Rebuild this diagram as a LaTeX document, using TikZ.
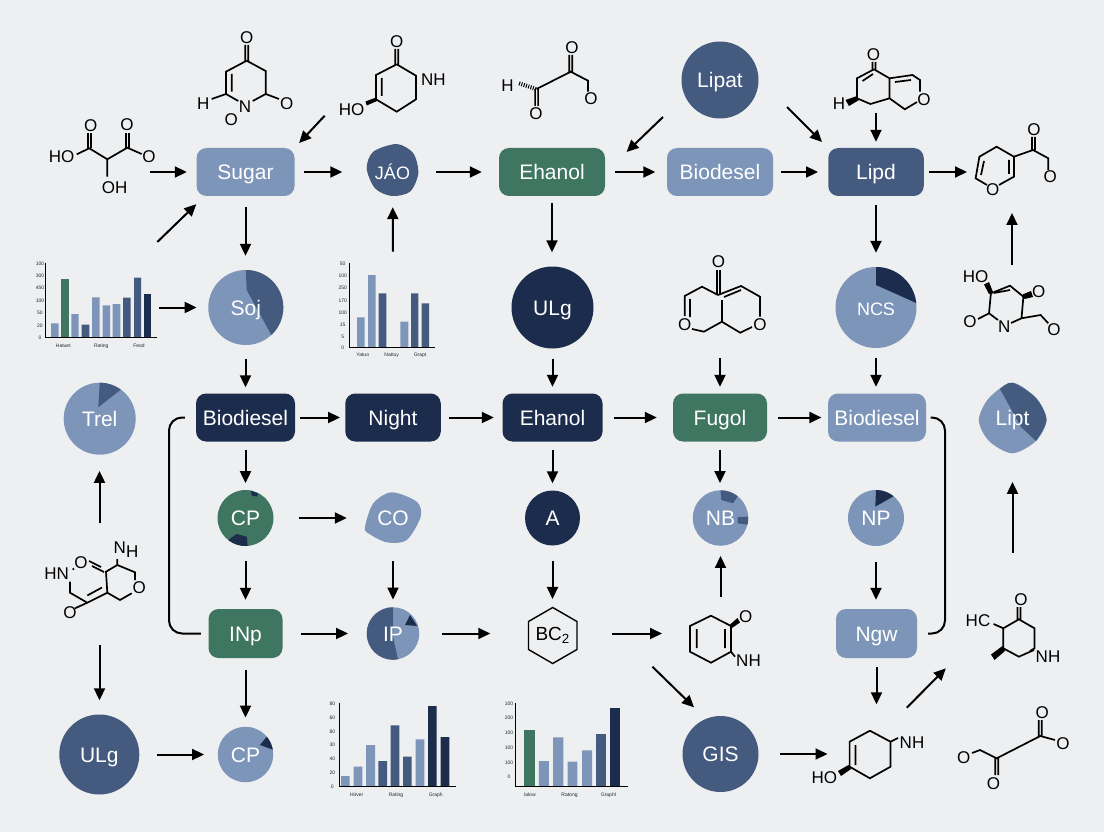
\documentclass[tikz,border=0pt]{standalone}
\usepackage{fontspec}
\setmainfont{Liberation Sans}
\usetikzlibrary{arrows.meta,shapes.geometric}
\definecolor{paper}{HTML}{EEEFF1}
\definecolor{lightb}{HTML}{7D95B9}
\definecolor{slate}{HTML}{445A7E}
\definecolor{navy}{HTML}{1B2C4C}
\definecolor{leaf}{HTML}{3F7661}
\begin{document}
\begin{tikzpicture}[x=1pt, y=-1pt, >={Stealth[length=12pt,width=11pt,inset=0pt]},
    lab/.style={text=white, font=\fontsize{21}{25}\selectfont, text height=15pt, text depth=0pt, inner sep=0pt},
    box/.style={lab, rectangle, rounded corners=10pt, minimum height=48pt},
    disc/.style={lab, circle, minimum size=#1},
    arr/.style={->, line width=2pt},
    gp/.style 2 args={shorten <=#1pt, shorten >=#2pt},
    rail/.style={line width=2pt, rounded corners=13pt},
    bond/.style={line width=1.7pt},
    hash/.style={line width=4pt, dash pattern=on 1pt off 1.4pt},
    atom/.style={font=\fontsize{17}{20}\selectfont, inner sep=0pt},
    axis/.style={line width=1pt},
    tick/.style={font=\fontsize{5}{6}\selectfont, inner sep=0pt, text=black!85},
  ]
  \fill[paper] (0,0) rectangle (1104,832);
  \useasboundingbox (0,0) rectangle (1104,832);

  \node[box, fill=lightb, minimum width=98pt] (sugar) at (245.5,172) {Sugar};
  \node[box, fill=leaf, minimum width=106pt] (ethanol) at (552,172) {Ehanol};
  \node[box, fill=lightb, minimum width=106pt] (biodA) at (720,172) {Biodesel};
  \node[box, fill=slate, minimum width=95.5pt] (lipd) at (876,172) {Lipd};
  \node[box, fill=navy, minimum width=99pt] (biodB) at (245.5,417.5) {Biodiesel};
  \node[box, fill=navy, minimum width=95.5pt] (night) at (393,417.5) {Night};
  \node[box, fill=navy, minimum width=100pt] (ehanol) at (552.5,417.5) {Ehanol};
  \node[box, fill=leaf, minimum width=94pt] (fugol) at (720,417.5) {Fugol};
  \node[box, fill=lightb, minimum width=98pt] (biodC) at (877,417.5) {Biodiesel};
  \node[box, fill=leaf, minimum width=74pt, minimum height=49pt] (inp) at (245.5,633.5) {INp};
  \node[box, fill=lightb, minimum width=81pt, minimum height=49pt] (ngw) at (876.5,633.5) {Ngw};

  \node[disc=77pt, fill=slate] (lipat) at (720,80) {Lipat};
  \node[disc=82pt, fill=navy] (ulgA) at (552.5,307.5) {ULg};
  \node[disc=55pt, fill=navy] (nodeA) at (552.5,518) {A};
  \node[disc=80pt, fill=slate] (ulgB) at (99.3,754.5) {ULg};
  \node[disc=76pt, fill=slate] (gis) at (720.5,754) {GIS};

  \node[disc=75pt, fill=lightb] (soj) at (245.8,307.5) {};
  \fill[slate] (246.7,290) -- (245.8,270) arc[start angle=-90, end angle=47, radius=37.5] -- cycle;
  \node[lab] (sojtx) at (soj) {Soj};
  \node[disc=81pt, fill=lightb] (ncs) at (876,307.5) {};
  \fill[navy] (876,285) -- (876,267) arc[start angle=-90, end angle=-6.4, radius=40.5] -- cycle;
  \node[lab, font=\fontsize{18}{22}\selectfont] (ncstx) at (ncs) {NCS};
  \node[disc=72pt, fill=lightb] (trel) at (99.7,418.7) {};
  \fill[slate] (98.3,407.3) -- (99.7,382.7) arc[start angle=-90, end angle=-54, radius=36] -- cycle;
  \node[lab] (treltx) at (trel) {Trel};
  \node[disc=56pt, fill=leaf] (cpA) at (245.5,518) {};
  \fill[navy] (250.5,490.6) -- (258,493.5) -- (257,496.5) -- (252,495.8) -- cycle;
  \fill[navy] (247.7,545.9) arc[start angle=85.5, end angle=128, radius=28] -- (236.7,534) -- (246.7,536.7) -- cycle;
  \node[lab] (cpAtx) at (cpA) {CP};
  \node[disc=52.5pt, fill=lightb] (ip) at (393,633.5) {};
  \fill[slate] (393,607.25) -- (393,636.5) -- (398,659.3) arc[start angle=79, end angle=270, radius=26.25] -- cycle;
  \fill[navy] (405,625) -- (410,615) -- (417.3,626) -- cycle;
  \node[lab] (iptx) at (ip) {IP};
  \node[disc=55.5pt, fill=lightb] (cpB) at (245.5,754.5) {};
  \fill[navy] (260,745) -- (266.76,736.66) arc[start angle=-40, end angle=-10, radius=27.75] -- cycle;
  \node[lab] (cpBtx) at (cpB) {CP};
  \node[disc=55.5pt, fill=lightb] (nb) at (720.5,518) {};
  \fill[slate] (721.3,500) -- (720.5,490.25) arc[start angle=-90, end angle=-51.5, radius=27.75] -- (733,503.3) -- cycle;
  \fill[slate] (737.6,517.3) -- (748.2,516.55) arc[start angle=-3, end angle=14, radius=27.75] -- (737.6,523.3) -- cycle;
  \node[lab] (nbtx) at (nb) {NB};
  \node[disc=56pt, fill=lightb] (np) at (876,518) {};
  \fill[navy] (875.3,506.7) -- (876,490) arc[start angle=-90, end angle=-51, radius=28] -- cycle;
  \node[lab] (nptx) at (np) {NP};

  \fill[slate] plot[smooth cycle] coordinates {(366.7,168.3) (373.3,151.7) (396.7,144) (413.3,153.3) (418.3,173.3) (410,191.7) (391.7,196) (375,188.3)};
  \node[disc=50pt, font=\fontsize{18}{22}\selectfont] (iao) at (392.5,172) {JÁO};
  \fill[lightb] plot[smooth cycle] coordinates {(365,526.7) (373.3,503.3) (391.7,492.3) (416.7,501.7) (420.7,516.7) (406.7,540) (386.7,542.3) (368.3,533.3)};
  \node[disc=52pt] (co) at (393,518) {CO};
  \fill[lightb] plot[smooth cycle] coordinates {(1012.3,382.7) (1036,398) (1046.5,420) (1036,441) (1012.3,453.3) (989,441) (978.8,420) (989,398)};
  \fill[slate] plot[smooth] coordinates {(1000,389) (1012.3,382.7) (1036,398) (1046.5,420) (1036,441)} -- plot[smooth] coordinates {(1021,427) (1000,389)} -- cycle;
  \node[disc=70pt] (lipt) at (1012.5,418) {Lipt};
  \node[regular polygon, regular polygon sides=6, shape border rotate=30, draw, line width=1.4pt, inner sep=0pt, minimum size=55.6pt, font=\fontsize{19}{22}\selectfont] (bc) at (552.7,635.5) {BC\textsubscript{2}};

  \draw[bond] (76.7,154.3) -- (89.3,148.3) -- (107.3,159.3) -- (127.3,147.7) -- (141.7,154) (107.3,159.3) -- (107.3,176.7);
  \draw[bond] (88,148) -- (88,133) (91,148) -- (91,133) (125.8,147.7) -- (125.8,133) (128.8,147.7) -- (128.8,133);
  \node[atom] (acidHO) at (61.7,157) {HO};
  \node[atom] (acidOa) at (90.7,125.7) {O};
  \node[atom] (acidOb) at (127,124.7) {O};
  \node[atom] (acidOc) at (149,156.7) {O};
  \node[atom] (acidOH) at (114.7,187.7) {OH};

  \draw[bond] (246.7,60.7) -- (226,71.7) -- (226,94) -- (238.3,101) (252.7,101) -- (265.7,94) -- (265.7,71) -- (246.7,60.7) (211.7,99) -- (226,94) (265.7,94) -- (279,99) (231.7,74) -- (231.7,91.7) (245.2,60.7) -- (245.2,45) (248.2,60.7) -- (248.2,45);
  \node[atom] (pyrO) at (246.7,37.7) {O};
  \node[atom] (pyrN) at (245,107) {N};
  \node[atom] (pyrH) at (203.3,103.3) {H};
  \node[atom] (pyrOa) at (286.7,103.3) {O};
  \node[atom] (pyrOb) at (231.3,119.3) {O};

  \draw[bond] (396.7,64.3) -- (376,75) -- (376,99.3) -- (396.7,111.7) -- (416,99.3) -- (416,75.7) -- (396.7,64.3) (381.7,78) -- (381.7,96) (395.2,64.3) -- (395.2,49) (398.2,64.3) -- (398.2,49);
  \fill (376,97.5) -- (377,101) -- (366.7,105.5) -- (365.5,101.5) -- cycle;
  \node[atom] (amiO) at (396.7,41.7) {O};
  \node[atom] (amiNH) at (433.3,80) {NH};
  \node[atom] (amiHO) at (351.7,109.3) {HO};

  \draw[bond] (536.6,89) -- (570.7,71.7) -- (588,80.7) -- (588,91.7) (569.2,71.7) -- (569.2,55) (572.2,71.7) -- (572.2,55) (535.1,89) -- (535.1,106) (538.1,89) -- (538.1,106);
  \draw[hash] (536,89) -- (518,83);
  \node[atom] (ketH) at (507.5,86) {H};
  \node[atom] (ketOa) at (536,114) {O};
  \node[atom] (ketOb) at (572,48) {O};
  \node[atom] (ketOc) at (591,99) {O};

  \draw[bond] (874,69.3) -- (857,78.3) -- (857,98.3) -- (870.4,104) -- (889.5,98.3) -- (889.5,78.3) -- (874,69.3) (889.5,78.3) -- (912.5,75) -- (920,80) -- (920,91.7) (889.5,98.3) -- (904.8,109.3) -- (917,102) (862.5,81) -- (873,74) (895,82) -- (911,80) (872.5,69.3) -- (872.5,62) (875.5,69.3) -- (875.5,62);
  \fill (857,96) -- (859,100) -- (849,106) -- (845.5,100) -- cycle;
  \node[atom] (bicO) at (873.4,54.3) {O};
  \node[atom] (bicH) at (839,104) {H};
  \node[atom] (bicOb) at (924,99.3) {O};

  \draw[bond] (987,185) -- (975.6,178.3) -- (979.4,156.7) -- (996.6,146.7) -- (1013.9,156.7) -- (1013.9,176.7) -- (999,185) (984,161) -- (981,175) (1009,160) -- (1009,174) (1013.9,156.7) -- (1033,150) -- (1048.3,158.3) -- (1048.3,170) (1032,150) -- (1032,137) (1035,150) -- (1035,137);
  \node[atom] (pyrnO) at (992.8,190) {O};
  \node[atom] (pyrnOa) at (1034,130) {O};
  \node[atom] (pyrnOb) at (1050.2,176.7) {O};

  \draw[bond] (718,295) -- (702,286.7) -- (684.7,296) -- (684.7,316) (718,295) -- (741,286) -- (760,296.7) -- (760,316.7) (690,299) -- (690,317) (724,297) -- (741,290) (721.9,300) -- (721.9,321.7) (692,329) -- (703.9,331.7) -- (721.9,321.7) -- (740.2,332.7) -- (752,327) (716.9,295) -- (716.9,270) (719.9,295) -- (719.9,270);
  \node[atom] (dicO) at (718.4,261.7) {O};
  \node[atom] (dicOa) at (684.7,325) {O};
  \node[atom] (dicOb) at (760,325) {O};

  \draw[bond] (990.9,293.3) -- (1010,285.7) -- (1023.4,296.7) -- (1021.5,318.3) -- (1011,323) (998,320) -- (989,313.3) -- (990.9,293.3) (994,293) -- (1010,290) (989,313.3) -- (978,319) (1021.5,318.3) -- (1040.6,315) -- (1048.3,323.3);
  \fill (989,294) -- (993,292) -- (989,282) -- (984,284.5) -- cycle;
  \fill (1022.5,294.5) -- (1024.5,299) -- (1033,297) -- (1031,291) -- cycle;
  \node[atom] (lacHO) at (975.6,276.7) {HO};
  \node[atom] (lacOa) at (1038.7,291.7) {O};
  \node[atom] (lacOb) at (969.9,321.7) {O};
  \node[atom] (lacN) at (1004.3,326.7) {N};
  \node[atom] (lacOc) at (1054,330) {O};

  \draw[bond] (70,581.7) -- (70,592.7) -- (87.3,602.7) -- (107.3,592.7) -- (106,571.7) -- (117.3,565) -- (135,572.3) -- (135,580) (87.3,595.5) -- (102,587.5) (107.3,592.7) -- (120,600) -- (131.7,593.3) (87.3,602.7) -- (75,608.3) (101,567) -- (89,561) (104,572) -- (92,566) (117.3,565) -- (117.3,559);
  \fill (73.3,569) circle (1.2pt);
  \node[atom] (hetHN) at (56.7,574) {HN};
  \node[atom] (hetO) at (81,562.7) {O};
  \node[atom] (hetNH) at (126,550) {N\raisebox{-4pt}{H}};
  \node[atom] (hetOa) at (139.3,587.3) {O};
  \node[atom] (hetOb) at (70,612.7) {O};

  \draw[bond] (711,615.7) -- (731,626) -- (731,651.7) -- (711,662.7) -- (690,651.7) -- (690,626) -- (711,615.7) (696.7,629) -- (696.7,648) (725,629) -- (725,648) (731,651.7) -- (735,656.7);
  \fill (730,624.5) -- (732,628) -- (740,622.5) -- (737.5,618) -- cycle;
  \node[atom] (enoO) at (745.8,616.7) {O};
  \node[atom] (enoNH) at (748.5,660.7) {NH};

  \draw[bond] (993.6,624) -- (1003.3,628.3) -- (1018.9,619.3) -- (1034.5,628.3) -- (1034.5,648.3) -- (1030,651) (1003.3,628.3) -- (1003.3,648.3) -- (1018.9,656.7) -- (1034,650) (1017.4,619.3) -- (1017.4,607) (1020.4,619.3) -- (1020.4,607);
  \fill (1002.5,646) -- (1005,651) -- (994.5,660) -- (991,654.5) -- cycle;
  \node[atom] (pipO) at (1020.9,599.3) {O};
  \node[atom] (pipHC) at (978,620.7) {HC};
  \node[atom] (pipNH) at (1048,656.7) {NH};

  \draw[bond] (869.9,730.7) -- (890.5,741.7) -- (890.5,766.7) -- (869.9,778.3) -- (849.6,766.7) -- (849.6,741.7) -- (869.9,730.7) (855.5,745) -- (855.5,765) (890.5,741.7) -- (898,738);
  \fill (848.5,765) -- (851,769) -- (841,776) -- (838,771) -- cycle;
  \node[atom] (hexNH) at (912,742.7) {NH};
  \node[atom] (hexHO) at (824.4,777.3) {HO};

  \draw[bond] (972,753) -- (980,750) -- (996.7,758.3) -- (1040.3,736) -- (1055,740) (995.2,758.3) -- (995.2,775) (998.2,758.3) -- (998.2,775) (1038.8,736) -- (1038.8,720) (1041.8,736) -- (1041.8,720);
  \node[atom] (oxaOa) at (963.7,757.7) {O};
  \node[atom] (oxaOb) at (993.6,783.3) {O};
  \node[atom] (oxaOc) at (1042.3,712.3) {O};
  \node[atom] (oxaOd) at (1062.9,743.3) {O};

  \fill[lightb] (51,323.3) rectangle (58.7,337) (71.3,314) rectangle (78.7,337) (92,297.3) rectangle (99.7,337) (102.7,305.3) rectangle (110,337) (112.7,304) rectangle (120.3,337);
  \fill[leaf] (61.3,279.3) rectangle (68.7,337);
  \fill[slate] (81.7,324.7) rectangle (89.3,337) (123,297.7) rectangle (130.7,337) (134,277.7) rectangle (141,337);
  \fill[navy] (143.7,294.3) rectangle (151.3,337);
  \draw[axis] (45.7,263) -- (45.7,337.3) -- (157.3,337.3);
  \foreach \n/\y/\t in {a/264/100, b/275.3/300, c/287.7/450, d/300.3/100, e/312.7/50, f/325.3/20, g/338/0}
    \node[tick] (chartAy\n) at (40,\y) {\t};
  \node[tick] (chartAa) at (63.3,346) {Hatuet};
  \node[tick] (chartAb) at (101.3,346) {Rating};
  \node[tick] (chartAc) at (139,346) {Feod};

  \fill[lightb] (357,317.3) rectangle (364.7,347) (368,275) rectangle (375.7,347) (400.3,321.7) rectangle (408.3,347);
  \fill[slate] (378.7,293.3) rectangle (386.3,347) (411,293.3) rectangle (418.3,347) (421.7,303.3) rectangle (429,347);
  \draw[axis] (349.3,263) -- (349.3,347.7) -- (435,347.7);
  \foreach \n/\y/\t in {a/264/50, b/275.3/100, c/287.7/250, d/300.3/170, e/312.3/100, f/325/15, g/337.3/5, h/348/0}
    \node[tick] (chartBy\n) at (342.7,\y) {\t};
  \node[tick] (chartBa) at (362.7,355) {Yatuo};
  \node[tick] (chartBb) at (391.7,355) {Nattuy};
  \node[tick] (chartBc) at (420,355) {Grapt};

  \fill[lightb] (341,776) rectangle (349.7,786) (353.7,766.7) rectangle (362.3,786) (366,745) rectangle (375,786) (415.7,739.3) rectangle (424.3,786);
  \fill[slate] (378.3,761) rectangle (387,786) (390.7,725.3) rectangle (399.3,786) (403,756.7) rectangle (411.7,786);
  \fill[navy] (428,706) rectangle (436.7,786) (440.7,737) rectangle (449.3,786);
  \draw[axis] (339,703.3) -- (339,786.7) -- (456,786.7);
  \foreach \n/\y/\t in {a/703.3/80, b/717.3/60, c/731.3/80, d/745/30, e/759/40, f/773/20, g/786.7/0}
    \node[tick] (chartCy\n) at (332.3,\y) {\t};
  \node[tick] (chartCa) at (356.7,795) {Hirver};
  \node[tick] (chartCb) at (396,795) {Rating};
  \node[tick] (chartCc) at (435.7,795) {Graph};

  \fill[leaf] (524,730) rectangle (534.9,786);
  \fill[lightb] (538.8,761) rectangle (548.9,786) (553.2,737.3) rectangle (563.3,786) (567.5,761.7) rectangle (577.3,786) (582,750.3) rectangle (592,786);
  \fill[slate] (595.6,733.7) rectangle (606,786);
  \fill[navy] (610,708.3) rectangle (620,786);
  \draw[axis] (515.8,703) -- (515.8,786.7) -- (628,786.7);
  \foreach \n/\y/\t in {a/703.3/100, b/718/200, c/733/100, d/747.7/100, e/762.3/100, f/776.7/0}
    \node[tick] (chartDy\n) at (509,\y) {\t};
  \node[tick] (chartDa) at (529.8,795) {Ialow};
  \node[tick] (chartDb) at (569.5,795) {Ratong};
  \node[tick] (chartDc) at (608.4,795) {Graphl};

  \coordinate (acidout) at (150,172);
  \coordinate (amiout) at (324.7,115.7);
  \coordinate (chartAout) at (159,307.5);
  \coordinate (chartAup) at (157.3,242);
  \coordinate (chartBup) at (393,251.7);
  \coordinate (bicout) at (876,113);
  \coordinate (pyrnin) at (967,172);
  \coordinate (lacup) at (1012,265);
  \coordinate (pyrnbot) at (1012,213);
  \coordinate (lipatsw) at (663,117);
  \coordinate (ethne) at (626.6,152);
  \coordinate (lipatse) at (787,107);
  \coordinate (lipdnw) at (822,142);
  \coordinate (dicout) at (720,358);
  \coordinate (hetup) at (99.5,523.3);
  \coordinate (hetdown) at (99.5,645);
  \coordinate (enoin) at (662,633.5);
  \coordinate (enoup) at (720.5,596.7);
  \coordinate (enodown) at (652.4,666.7);
  \coordinate (gisin) at (694,707.3);
  \coordinate (hexin) at (827.5,754);
  \coordinate (hextop) at (876.5,704.3);
  \coordinate (hexne) at (906.8,707.7);
  \coordinate (pipin) at (945.8,668.3);
  \coordinate (pipup) at (1012.5,552.7);
  \coordinate (railL) at (169,633.5);
  \coordinate (railR) at (945,633.5);

  \draw[arr, gp={0}{9.5}] (acidout) -- (sugar);
  \draw[arr, gp={9}{25}] (sugar) -- (iao);
  \draw[arr, gp={18.7}{17}] (iao) -- (ethanol);
  \draw[arr, gp={10}{11.5}] (ethanol) -- (biodA);
  \draw[arr, gp={8}{10}] (biodA) -- (lipd);
  \draw[arr, gp={5.5}{0}] (lipd) -- (pyrnin);
  \draw[arr, gp={0}{6.5}] (amiout) -- (sugar.north east);
  \draw[arr] (chartAup) -- ([yshift=-8pt]sugar.south west);
  \draw[arr, gp={10.7}{14}] (sugar) -- (sugar |- soj.north);
  \draw[arr, gp={0}{11.5}] (chartAout) -- (soj);
  \draw[arr, gp={0}{10}] (chartBup) -- (iao);
  \draw[arr] (lipatsw) -- (ethne);
  \draw[arr] (lipatse) -- (lipdnw);
  \draw[arr, gp={0}{6}] (bicout) -- (lipd);
  \draw[arr, gp={7}{14}] (ethanol.south) -- (ethanol |- ulgA.north);
  \draw[arr, gp={9}{14}] (lipd) -- (ncs);
  \draw[arr] (lacup) -- (pyrnbot);
  \draw[arr, gp={13.3}{6}] (biodB |- soj.south) -- (biodB);
  \draw[arr, gp={10}{6.5}] (ulgA) -- (ehanol);
  \draw[arr, gp={0}{6.5}] (dicout) -- (fugol);
  \draw[arr, gp={10}{6.5}] (ncs) -- (biodC.north -| ncs);
  \draw[arr, gp={5}{5}] (biodB) -- (night);
  \draw[arr, gp={8}{8.5}] (night) -- (ehanol);
  \draw[arr, gp={11}{16}] (ehanol) -- (fugol);
  \draw[arr, gp={10.7}{6.4}] (fugol) -- (biodC);
  \draw[arr, gp={8}{6.7}] (biodB) -- (cpA);
  \draw[arr, gp={8}{7}] (ehanol) -- (nodeA);
  \draw[arr, gp={8}{7}] (fugol) -- (fugol |- nb.north);
  \draw[arr, gp={15}{9}] (cpA) -- (inp);
  \draw[arr, gp={25}{20}] (cpA) -- (co);
  \draw[arr, gp={17}{7.5}] (co) -- (ip);
  \draw[arr, gp={15}{7.7}] (nodeA) -- (nodeA |- bc.north);
  \draw[arr, gp={16}{9}] (np) -- (ngw.north -| np);
  \draw[arr, gp={18}{18.5}] (inp) -- (ip);
  \draw[arr, gp={22.5}{37.5}] (ip) -- (bc.west |- ip);
  \draw[arr, gp={34}{0}] (bc.east |- ip) -- (enoin);
  \draw[arr, gp={0}{10}] (enoup) -- (nb);
  \draw[arr] (enodown) -- (gisin);
  \draw[arr, gp={12}{9}] (inp) -- (cpB);
  \draw[arr, gp={17}{13.5}] (ulgB) -- (cpB);
  \draw[arr, gp={21}{0}] (gis) -- (hexin);
  \draw[arr, gp={9}{0}] (ngw) -- (hextop);
  \draw[arr] (hexne) -- (pipin);
  \draw[arr, gp={0}{28.7}] (pipup) -- (lipt);
  \draw[arr, gp={0}{16}] (hetup) -- (hetup |- trel.south);
  \draw[arr, gp={0}{14}] (hetdown) -- (hetdown |- ulgB.north);
  \draw[rail] ([xshift=-11pt]biodB.west) -| (railL) -- ([xshift=-7.5pt]inp.west);
  \draw[rail] ([xshift=4.5pt]biodC.east) -| (railR) -- ([xshift=11pt]ngw.east);
\end{tikzpicture}
\end{document}
